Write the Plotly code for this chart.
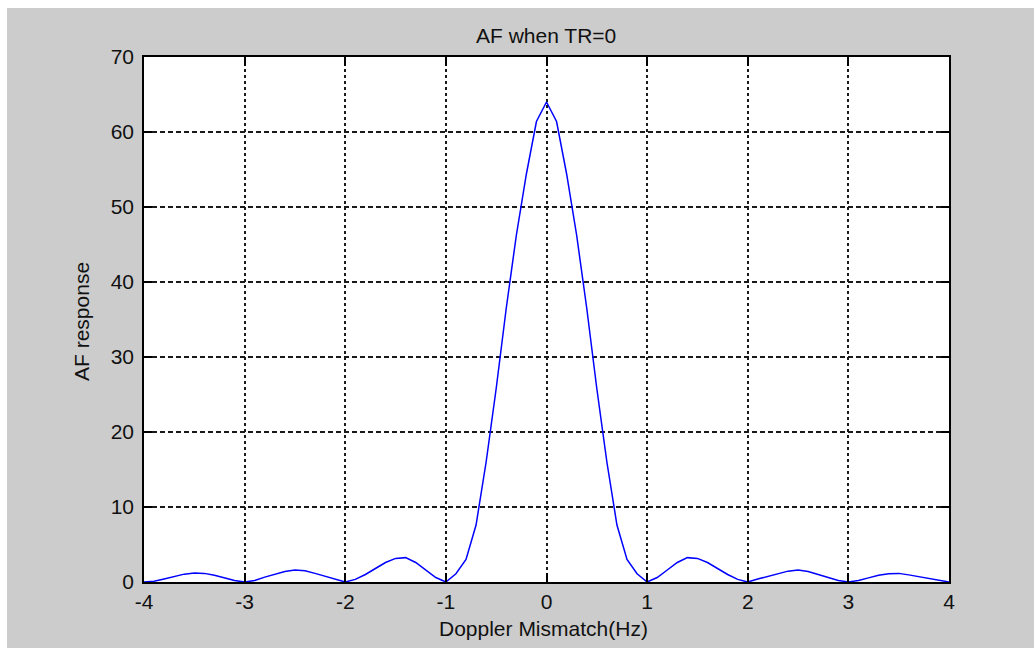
import plotly.graph_objects as go

# ---- data ----
doppler_hz = [-4.0, -3.9, -3.8, -3.7, -3.6, -3.5, -3.4, -3.3, -3.2, -3.1,
              -3.0, -2.9, -2.8, -2.7, -2.6, -2.5, -2.4, -2.3, -2.2, -2.1,
              -2.0, -1.9, -1.8, -1.7, -1.6, -1.5, -1.4, -1.3, -1.2, -1.1,
              -1.0, -0.9, -0.8, -0.7, -0.6, -0.5, -0.4, -0.3, -0.2, -0.1,
              0.0, 0.1, 0.2, 0.3, 0.4, 0.5, 0.6, 0.7, 0.8, 0.9,
              1.0, 1.1, 1.2, 1.3, 1.4, 1.5, 1.6, 1.7, 1.8, 1.9,
              2.0, 2.1, 2.2, 2.3, 2.4, 2.5, 2.6, 2.7, 2.8, 2.9,
              3.0, 3.1, 3.2, 3.3, 3.4, 3.5, 3.6, 3.7, 3.8, 3.9, 4.0]
af_response = [0.0, 0.1, 0.4, 0.75, 1.05, 1.2, 1.15, 0.9, 0.55, 0.2,
               0.0, 0.2, 0.65, 1.0, 1.4, 1.6, 1.5, 1.15, 0.75, 0.35,
               0.0, 0.35, 1.0, 1.8, 2.6, 3.15, 3.25, 2.6, 1.6, 0.6,
               0.0, 1.1, 3.0, 7.6, 16.0, 25.8, 36.5, 46.2, 54.4, 61.4,
               64.0, 61.4, 54.4, 46.2, 36.5, 25.8, 16.0, 7.6, 3.0, 1.1,
               0.0, 0.6, 1.6, 2.6, 3.25, 3.15, 2.6, 1.8, 1.0, 0.35,
               0.0, 0.4, 0.75, 1.15, 1.45, 1.6, 1.4, 1.0, 0.65, 0.2,
               0.0, 0.2, 0.55, 0.9, 1.1, 1.15, 0.95, 0.7, 0.45, 0.15, 0.0]
x_tick_vals = [-4, -3, -2, -1, 0, 1, 2, 3, 4]
x_tick_text = ["-4", "-3", "-2", "-1", "0", "1", "2", "3", "4"]
y_tick_vals = [0, 10, 20, 30, 40, 50, 60, 70]
y_tick_text = ["0", "10", "20", "30", "40", "50", "60", "70"]

title_text = "AF when TR=0"
x_title = "Doppler Mismatch(Hz)"
y_title = "AF response"

# ---- layout constants ----
W, H = 1034, 648
ML, MR, MT, MB = 144, 85, 57, 66
PW, PH = W - ML - MR, H - MT - MB
FONT = "Liberation Sans, Arial, sans-serif"
TXT = "#111111"

fig = go.Figure()
fig.add_trace(go.Scatter(x=doppler_hz, y=af_response, mode="lines",
                         line=dict(color="#0000FF", width=1.5),
                         showlegend=False, hoverinfo="x+y"))

axis_common = dict(
    showline=True, linecolor="#000000", linewidth=1.5, mirror="ticks",
    ticks="inside", tickcolor="#000000", tickwidth=1.5,
    showgrid=True, gridcolor="#1a1a1a", gridwidth=1.6,
    zeroline=False, tickfont=dict(family=FONT, size=21, color=TXT),
)

fig.update_xaxes(range=[-4, 4], tickvals=x_tick_vals, ticktext=x_tick_text,
                 ticklen=9, griddash="3px,3px", **axis_common)
fig.update_yaxes(range=[0, 70], tickvals=y_tick_vals, ticktext=y_tick_text,
                 ticklen=8, griddash="5px,3px", ticklabelstandoff=4,
                 **axis_common)

# white strips of the screenshot border (top and left)
def px_to_paper_x(px):
    return (px - ML) / PW

def px_to_paper_y(py):
    return (H - MB - py) / PH

fig.add_shape(type="rect", xref="paper", yref="paper",
              x0=px_to_paper_x(0), x1=px_to_paper_x(7),
              y0=px_to_paper_y(H), y1=px_to_paper_y(0),
              fillcolor="white", line=dict(width=0), layer="above")
fig.add_shape(type="rect", xref="paper", yref="paper",
              x0=px_to_paper_x(0), x1=px_to_paper_x(W),
              y0=px_to_paper_y(8), y1=px_to_paper_y(0),
              fillcolor="white", line=dict(width=0), layer="above")

# titles as annotations for exact placement
fig.add_annotation(text=title_text, xref="paper", yref="paper",
                   x=px_to_paper_x(546), y=px_to_paper_y(35),
                   xanchor="center", yanchor="middle", showarrow=False,
                   font=dict(family=FONT, size=21, color=TXT))
fig.add_annotation(text=x_title, xref="paper", yref="paper",
                   x=px_to_paper_x(543), y=px_to_paper_y(628),
                   xanchor="center", yanchor="middle", showarrow=False,
                   font=dict(family=FONT, size=21, color=TXT))
fig.add_annotation(text=y_title, xref="paper", yref="paper",
                   x=px_to_paper_x(81), y=px_to_paper_y(322),
                   xanchor="center", yanchor="middle", showarrow=False,
                   textangle=-90,
                   font=dict(family=FONT, size=21, color=TXT))

fig.update_layout(
    width=W, height=H,
    margin=dict(l=ML, r=MR, t=MT, b=MB, pad=0),
    paper_bgcolor="#CCCCCC", plot_bgcolor="#FFFFFF",
    font=dict(family=FONT, size=21, color=TXT),
    showlegend=False,
)

fig.write_html("out.html")
